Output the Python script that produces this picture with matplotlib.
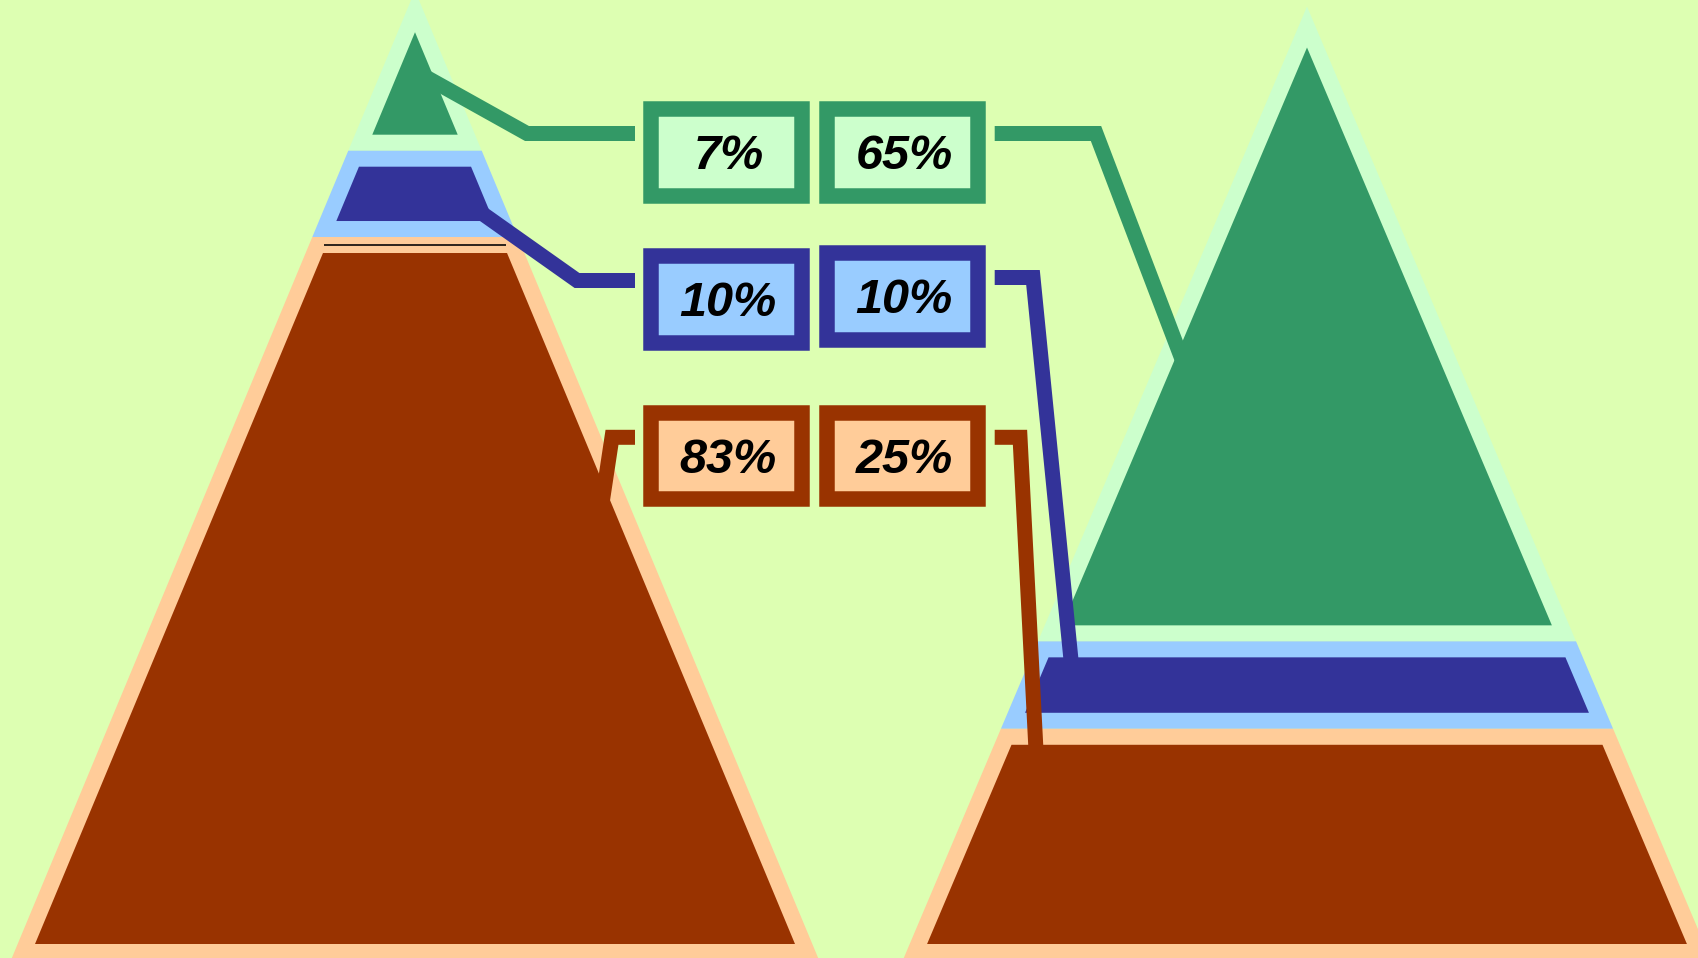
import matplotlib
matplotlib.use('Agg')
import matplotlib.pyplot as plt
from matplotlib.patches import Polygon, Rectangle

# values printed in the label boxes (per cent), top layer first
left_values = [7, 10, 83]
right_values = [65, 10, 25]
# share of the pyramid height each layer takes as drawn
left_share = [14.45, 7.74, 77.81]
right_share = [67.9, 8.0, 24.1]

layer_dark = ['#339966', '#333399', '#993300']
layer_light = ['#ccffcc', '#99ccff', '#ffcc99']
bg = '#ddffb2'

W, H = 1699, 958
PX = 72 / 100  # points per pixel at dpi 100

fig = plt.figure(figsize=(W / 100, H / 100), dpi=100)
fig.patch.set_facecolor(bg)
ax = fig.add_axes([0, 0, 1, 1])
ax.set_facecolor(bg)
ax.set_xlim(0, W)
ax.set_ylim(H, 0)
ax.axis('off')


def pyramid(cx, top, shares, bottom=952, half_base=392, gap=16):
    '''Stack the layers of one pyramid, dark fill with a light border'''
    usable = bottom - top - gap * (len(shares) - 1)

    def half(y):
        return half_base * (y - top) / (bottom - top)

    y = top
    spans = []
    for i, s in enumerate(shares):
        h = usable * s / sum(shares)
        y0, y1 = y, y + h
        if i == 0:
            pts = [(cx, y0), (cx + half(y1), y1), (cx - half(y1), y1)]
        else:
            pts = [(cx - half(y0), y0), (cx + half(y0), y0),
                   (cx + half(y1), y1), (cx - half(y1), y1)]
        ax.add_patch(Polygon(pts, closed=True, facecolor=layer_dark[i],
                             edgecolor=layer_light[i], linewidth=16 * PX,
                             joinstyle='miter', zorder=1))
        spans.append((y0, y1, half(y0)))
        y = y1 + gap
    return spans


left_spans = pyramid(415, 11.4, left_share)
right_spans = pyramid(1307, 27, right_share)

# thin dark rule on top of the bottom layer of the left pyramid
y0, y1, hw = left_spans[2]
ax.plot([415 - hw + 6, 415 + hw - 6], [y0, y0], color='black',
        lw=1.6 * PX, solid_capstyle='butt', zorder=1.5)

# label boxes
col_x = [726.3, 902.3]
row_y = [152.5, 299.5, 456.3]
row_y_right = [152.5, 296.5, 456.3]
box_w, box_h, box_lw = 150.5, 86.1, 15.5

# leader lines: anchor inside the layer and the x of the knee
left_anchor = [(415, 71), (471, 205.5), (601, 510)]
left_knee = [527, 577, 612]
right_anchor = [(1188, 375), (1073, 680), (1037, 770)]
right_knee = [1096, 1033, 1020]

for i in range(3):
    for cx, cy, val in [(col_x[0], row_y[i], left_values[i]),
                        (col_x[1], row_y_right[i], right_values[i])]:
        ax.add_patch(Rectangle((cx - box_w / 2, cy - box_h / 2), box_w, box_h,
                               facecolor=layer_light[i], edgecolor=layer_dark[i],
                               linewidth=box_lw * PX, joinstyle='miter', zorder=3))
        ax.text(cx + 2, cy + 4, '%d%%' % val, ha='center', va='center',
                fontsize=35, fontweight='bold', fontstyle='italic',
                family=['Liberation Sans', 'DejaVu Sans'], color='black', zorder=4)

    outer = box_w / 2 + box_lw / 2
    ty = row_y[i] - 19
    ax_, ay_ = left_anchor[i]
    ax.plot([ax_, left_knee[i], col_x[0] - outer - 8.3], [ay_, ty, ty],
            color=layer_dark[i], lw=15 * PX, solid_joinstyle='miter',
            solid_capstyle='butt', zorder=2)
    ty = row_y_right[i] - 19
    bx_, by_ = right_anchor[i]
    ax.plot([col_x[1] + outer + 9.4, right_knee[i], bx_], [ty, ty, by_],
            color=layer_dark[i], lw=15 * PX, solid_joinstyle='miter',
            solid_capstyle='butt', zorder=2)

fig.savefig('out.png', dpi=100, facecolor=bg)
